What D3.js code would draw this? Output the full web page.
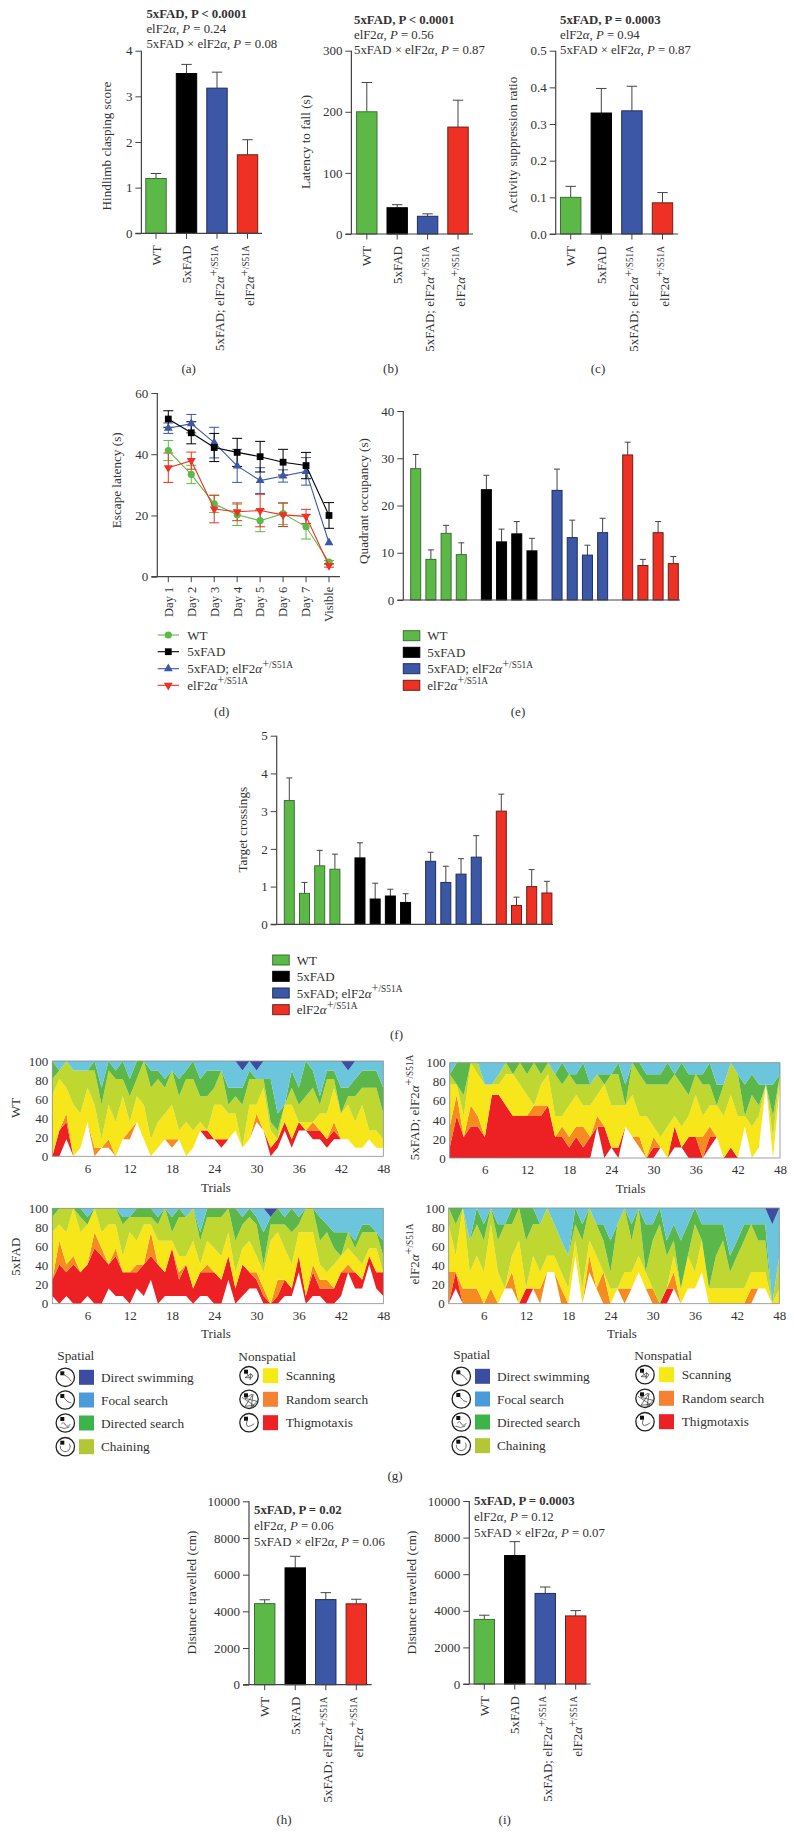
<!DOCTYPE html>
<html><head><meta charset="utf-8">
<script src="https://cdn.jsdelivr.net/npm/d3@7"></script>
<style>html,body{margin:0;padding:0;background:#fff}svg{display:block}text{fill:#333}</style>
</head><body><svg id="c" width="794" height="1833"></svg>
<script>
// ---------- data ----------
const genotypes=["WT","5xFAD","5xFAD; elF2*α*^+/S51A^","elF2*α*^+/S51A^"];
const aValues=[1.2,3.5,3.18,1.72], aUpper=[1.31,3.7,3.53,2.05];
const bValues=[200,43,29,175], bUpper=[248,48,33,219];
const cValues=[0.1,0.33,0.336,0.085], cUpper=[0.13,0.397,0.403,0.113];
const hValues=[4420,6370,4640,4410], hUpper=[4630,7000,5020,4660];
const iValues=[3530,7020,4950,3720], iUpper=[3760,7780,5300,4010];
const days=["Day 1","Day 2","Day 3","Day 4","Day 5","Day 6","Day 7","Visible"];
const dWT=[41.2,33.4,23.8,20.2,18.3,20.6,16.3,4.8], dWTErr=[3.3,3,2.8,3.5,3.6,3.6,4,0.5];
const dFAD=[51.5,47,42.2,40.6,39.2,37.4,36.3,20], dFADErr=[2.7,3.6,4.6,4.6,5,4.2,4.3,4.2];
const dDouble=[48.5,50,43.8,36.2,31.4,32.9,34.4,11.1], dDoubleErr=[1.7,3,5,5.4,4.2,2,4.5,0];
const dEIF=[35.6,37.9,22.1,21.2,21.6,20.2,19.7,3.6], dEIFErr=[4.8,2.8,4.5,2.9,5.3,3.8,2.3,0.5];
const eValues=[[27.8,8.6,14.1,9.6],[23.35,12.3,14,10.4],[23.2,13.2,9.5,14.25],[30.7,7.3,14.25,7.7]];
const eUpper=[[30.8,10.6,15.8,12.1],[26.4,15,16.6,13.05],[27.7,16.9,11.6,17.3],[33.4,8.6,16.6,9.2]];
const fValues=[[3.28,0.82,1.55,1.46],[1.76,0.67,0.75,0.58],[1.67,1.11,1.33,1.78],[3,0.5,1,0.83]];
const fUpper=[[3.88,1.11,1.96,1.86],[2.16,1.09,0.93,0.81],[1.91,1.54,1.74,2.35],[3.45,0.72,1.45,1.14]];
const aStats=["5xFAD, P < 0.0001","elF2*α*, *P* = 0.24","5xFAD × elF2*α*, *P* = 0.08"];
const bStats=["5xFAD, P < 0.0001","elF2*α*, *P* = 0.56","5xFAD × elF2*α*, *P* = 0.87"];
const cStats=["5xFAD, P = 0.0003","elF2*α*, *P* = 0.94","5xFAD × elF2*α*, *P* = 0.87"];
const hStats=["5xFAD, P = 0.02","elF2*α*, *P* = 0.06","5xFAD × elF2*α*, *P* = 0.06"];
const iStats=["5xFAD, P = 0.0003","elF2*α*, *P* = 0.12","5xFAD × elF2*α*, *P* = 0.07"];
const strategies=["Direct swimming","Focal search","Directed search","Chaining","Scanning","Random search","Thigmotaxis"];
const xTrials=[6,12,18,24,30,36,42,48], yPercent=[0,20,40,60,80,100];
// cumulative tops of each strategy band, trials 1..48
const wtBase=[0,0,18,0,9,36, 0,9,9,0,18,18, 36,18,0,9,18,9, 18,0,9,27,18,18, 9,18,27,9,18,36, 27,0,9,27,9,27, 27,18,18,9,18,18, 18,9,9,18,9,9];
const wtThig=[0,27,36,0,9,36, 0,9,9,0,18,18, 36,18,0,9,18,9, 18,0,9,27,27,18, 18,18,27,9,18,36, 27,9,18,36,18,36, 27,27,27,18,27,18, 18,9,9,18,9,9];
const wtRand=[0,27,45,0,9,36, 9,9,18,0,18,27, 36,18,0,9,18,18, 18,0,9,27,27,18, 18,18,27,9,18,45, 27,9,18,36,18,36, 27,36,27,18,36,18, 18,9,9,18,9,9];
const wtScan=[64,81,72,54,45,72, 54,18,54,36,63,36, 63,54,18,36,45,54, 27,36,27,36,27,54, 54,45,45,9,54,54, 72,27,18,54,54,36, 36,36,45,45,72,45, 54,36,54,27,27,18];
const wtChain=[81,90,100,90,90,90, 90,54,90,81,81,63, 81,100,72,81,72,90, 63,81,81,63,63,72, 90,54,63,54,81,81, 81,36,27,45,72,54, 63,72,54,81,81,45, 63,63,72,72,72,45];
const wtDirected=[100,90,100,90,90,90, 100,72,100,90,100,81, 100,100,90,90,81,90, 81,90,100,81,90,90, 90,72,72,72,90,81, 81,81,45,54,90,72, 100,90,63,90,90,72, 72,81,90,90,90,72];
const wtFocal=[100,100,100,100,100,100, 100,100,100,100,100,100, 100,100,100,100,100,100, 100,100,100,100,100,100, 100,100,100,90,100,90, 100,100,100,100,100,100, 100,100,100,100,100,100, 90,100,100,100,100,100];
const fadBase=[8,0,8,0,0,8, 0,0,16,8,8,0, 16,8,25,0,8,8, 8,8,0,8,8,0, 0,25,0,8,16,16, 0,0,0,8,8,33, 0,8,8,0,0,8, 33,16,16,41,16,8];
const fadThig=[25,41,33,41,33,41, 58,50,41,50,33,33, 33,41,50,41,33,58, 25,41,16,33,33,33, 25,50,16,41,33,25, 8,0,8,25,16,50, 8,33,16,16,16,33, 33,33,25,50,33,33];
const fadRand=[25,66,41,50,33,41, 75,58,41,58,33,33, 41,41,75,41,33,58, 33,41,16,33,41,33, 25,50,16,41,33,33, 16,0,25,25,16,50, 8,41,25,25,16,33, 41,33,25,50,33,33];
const fadScan=[75,83,75,100,75,83, 100,75,83,83,50,75, 66,83,83,66,66,66, 50,50,66,41,66,58, 50,75,33,58,66,50, 33,66,75,58,41,75, 75,75,41,33,41,50, 58,50,41,58,58,33];
const fadChain=[91,100,100,100,91,83, 100,100,100,100,83,91, 91,91,91,83,100,75, 91,91,100,66,91,91, 91,100,66,83,91,83, 41,83,83,83,75,83, 100,100,66,75,58,50, 75,58,75,75,75,50];
const fadDirected=[100,100,100,100,100,91, 100,100,100,100,91,91, 100,100,100,91,100,91, 100,91,100,75,100,100, 100,100,100,91,100,91, 75,91,100,91,100,91, 100,100,91,83,75,75, 75,66,83,83,75,66];
const fadFocal=[100,100,100,100,100,100, 100,100,100,100,100,100, 100,100,100,100,100,100, 100,100,100,100,100,100, 100,100,100,100,100,100, 100,91,100,100,100,100, 100,100,100,100,100,100, 100,100,100,100,100,100];
const dblBase=[0,0,0,0,0,0, 0,0,0,0,0,0, 0,0,0,0,0,0, 0,0,0,33,0,11, 0,33,22,11,0,0, 11,0,11,11,0,0, 0,11,22,0,0,0, 33,0,11,77,0,77];
const dblThig=[11,44,22,33,33,22, 66,66,55,44,44,44, 44,44,55,22,22,11, 22,11,22,33,33,11, 11,33,11,11,0,11, 11,0,33,11,22,22, 0,22,22,0,11,0, 33,0,11,77,0,77];
const dblRand=[33,66,22,55,44,22, 66,66,55,44,44,44, 55,55,55,22,33,22, 33,33,22,44,33,11, 11,33,22,22,0,22, 11,0,33,11,22,22, 22,33,22,0,11,0, 33,0,11,77,0,77];
const dblScan=[77,77,44,100,88,77, 77,77,88,88,77,66, 55,77,88,44,44,55, 66,55,55,66,77,55, 55,55,66,44,44,33, 22,33,44,33,44,66, 44,55,55,44,66,44, 44,33,44,77,22,88];
const dblChain=[88,77,66,100,100,77, 77,88,100,88,100,88, 100,88,100,88,77,88, 77,77,77,88,77,88, 88,55,100,88,77,77, 77,77,88,77,66,88, 77,77,55,77,100,88, 44,66,55,77,44,88];
const dblDirected=[88,100,100,100,100,77, 77,88,100,100,88,100, 100,100,100,88,100,88, 88,100,77,88,88,88, 100,77,100,100,88,88, 88,100,88,100,88,88, 88,100,77,77,100,88, 77,88,77,77,77,88];
const dblFocal=[100,100,100,100,100,100, 100,100,100,100,100,100, 100,100,100,100,100,100, 100,100,100,100,100,100, 100,100,100,100,100,100, 100,100,100,100,100,100, 100,100,100,100,100,100, 100,100,100,100,100,100];
const eifBase=[0,16,0,0,0,0, 0,0,16,16,0,0, 16,0,33,33,0,0, 50,0,33,16,0,0, 16,0,16,33,16,0, 0,0,16,0,16,16, 33,0,0,0,0,0, 0,0,16,16,0,0];
const eifThig=[0,33,0,0,0,0, 0,0,16,16,0,16, 16,0,33,33,0,0, 50,0,33,16,0,0, 16,0,16,33,16,0, 0,16,16,0,16,16, 33,0,0,0,0,0, 0,0,16,16,0,0];
const eifRand=[33,33,16,16,16,0, 16,0,16,33,0,16, 16,16,33,33,16,0, 50,0,50,16,33,0, 16,16,16,33,16,16, 0,16,33,0,16,16, 33,0,0,0,0,0, 0,16,16,16,0,0];
const eifScan=[83,50,100,33,50,33, 83,33,16,50,66,16, 50,33,50,50,33,16, 66,16,66,50,33,16, 16,33,33,50,33,16, 0,16,50,16,50,33, 66,16,16,16,16,16, 16,33,33,33,0,16];
const eifChain=[100,83,100,66,83,66, 100,66,83,83,100,66, 83,83,100,83,66,50, 83,66,100,83,66,33, 83,100,66,100,33,66, 83,50,66,16,50,83, 66,16,50,66,33,50, 66,83,66,66,0,50];
const eifDirected=[100,100,100,66,100,83, 100,83,83,100,100,100, 100,83,100,83,66,50, 100,83,100,83,83,66, 83,100,83,100,83,83, 100,66,83,66,83,100, 83,83,83,83,50,66, 83,83,83,83,0,50];
const eifFocal=[100,100,100,100,100,100, 100,100,100,100,100,100, 100,100,100,100,100,100, 100,100,100,100,100,100, 100,100,100,100,100,100, 100,100,100,100,100,100, 100,100,100,100,100,100, 100,100,100,100,83,100];

// ---------- styles ----------
const serif='"Liberation Serif","Tinos","Times New Roman"';
const fills=["#5db947","#000","#3b57a5","#ee3124"];
const strokes=["#3d6f33","#000","#1f2e5a","#6a2018"];
const axisCol="#444";
const bandFill=["#ed2124","#f68b1f","#f7e61a","#bfd731","#5cb74a","#6bc5dc","#3c4ea0"];
const keyFill=["#3a4da0","#4a9bd7","#3cb44a","#b2c636","#f5ea14","#f58233","#ed2024"];
const svg=d3.select("#c");

function rich(t,str,baseSize){
  const parts=str.split(/(\*[^*]+\*|\^[^^]+\^)/).filter(s=>s!=="");
  parts.forEach(p=>{
    if(p[0]==="*"){t.append("tspan").attr("font-style","italic").text(p.slice(1,-1));}
    else if(p[0]==="^"){
      const v=p.slice(1,-1);
      t.append("tspan").attr("dy",-baseSize*0.42).style("font-size",baseSize*0.95+"px").text(v[0]);
      t.append("tspan").style("font-size",baseSize*0.72+"px").text(v.slice(1));
    }
    else t.append("tspan").text(p);
  });
  return t;
}
function txt(x,y,s,o={}){
  const size=o.size||13;
  const t=svg.append("text").attr("x",x).attr("y",y).attr("dy","0.35em")
    .attr("text-anchor",o.anchor||"start").style("font-size",size+"px");
  if(o.rotate)t.attr("transform",`rotate(-90 ${x} ${y})`);
  if(o.bold)t.style("font-weight","bold");
  rich(t,s,size);
  return t;
}
function axes(g,y,ticks,fmt,x0,x1,tickLen){
  const a=d3.axisLeft(y).tickValues(ticks).tickSize(tickLen).tickPadding(3).tickFormat(fmt);
  const ag=g.append("g").attr("transform",`translate(${x0},0)`).call(a);
  ag.selectAll("path").attr("d",`M0,${y.range()[1]}V${y.range()[0]}`).attr("stroke",axisCol).attr("stroke-width",1.2);
  ag.selectAll("line").attr("stroke",axisCol).attr("stroke-width",1);
  ag.selectAll("text").style("font-size","13px").attr("fill","#333");
  g.append("line").attr("x1",x0-tickLen).attr("x2",x1).attr("y1",y(0)).attr("y2",y(0)).attr("stroke",axisCol).attr("stroke-width",1.2);
}
function errorBar(g,x,y0,y1,capW,col){
  g.append("line").attr("x1",x).attr("x2",x).attr("y1",y0).attr("y2",y1).attr("stroke",col).attr("stroke-width",1);
  g.append("line").attr("x1",x-capW).attr("x2",x+capW).attr("y1",y1).attr("y2",y1).attr("stroke",col).attr("stroke-width",1);
}
function barPanel(c){
  const g=svg.append("g");
  const y=d3.scaleLinear().domain([0,c.max]).range([c.y0,c.yTop]);
  const x=d3.scalePoint().domain(d3.range(c.values.length)).range([c.x1st,c.xLast]);
  c.values.forEach((v,i)=>errorBar(g,x(i),y(v),y(c.upper[i]),5.2,"#444"));
  g.selectAll(".b").data(c.values).join("rect").attr("x",(d,i)=>x(i)-10.2).attr("width",20.4)
    .attr("y",d=>y(d)).attr("height",d=>y(0)-y(d)).attr("fill",(d,i)=>fills[i]).attr("stroke",(d,i)=>strokes[i]).attr("stroke-width",1);
  axes(g,y,c.ticks,c.fmt,c.xAxis,c.xEnd,6);
  c.values.forEach((v,i)=>{
    g.append("line").attr("x1",x(i)).attr("x2",x(i)).attr("y1",y(0)).attr("y2",y(0)+5.5).attr("stroke",axisCol);
    const off=i>=2?2:0;
    txt(x(i)+off,y(0)+12,genotypes[i],{anchor:"end",rotate:true});
  });
  txt(c.labX,c.labY,c.label,{anchor:"middle",rotate:true,size:13.2});
  c.stats.forEach((s,i)=>txt(c.sx,c.sy+i*c.sd,s,{bold:i===0,size:12.8}));
  txt(c.capX,c.capY,c.cap,{anchor:"middle"});
}
const fmtInt=d3.format("d"), fmt1=d3.format(".1f");
barPanel({values:aValues,upper:aUpper,max:4,y0:233.3,yTop:50.7,x1st:156,xLast:247.5,xAxis:141.4,xEnd:262,ticks:[0,1,2,3,4],fmt:fmtInt,label:"Hindlimb clasping score",labX:106.8,labY:146,stats:aStats,sx:146.4,sy:13.3,sd:15.2,cap:"(a)",capX:188.6,capY:368.3});
barPanel({values:bValues,upper:bUpper,max:300,y0:234,yTop:50.7,x1st:366.8,xLast:458,xAxis:351.4,xEnd:473,ticks:[0,100,200,300],fmt:fmtInt,label:"Latency to fall (s)",labX:305.7,labY:142,stats:bStats,sx:354,sy:20,sd:14.6,cap:"(b)",capX:390.7,capY:368.3});
barPanel({values:cValues,upper:cUpper,max:0.5,y0:234,yTop:50.7,x1st:570.7,xLast:662.5,xAxis:555.7,xEnd:678,ticks:[0,0.1,0.2,0.3,0.4,0.5],fmt:fmt1,label:"Activity suppression ratio",labX:512,labY:144.8,stats:cStats,sx:560,sy:20,sd:14.6,cap:"(c)",capX:598,capY:368.3});
barPanel({values:hValues,upper:hUpper,max:10000,y0:1684.7,yTop:1501.3,x1st:264.7,xLast:356.3,xAxis:249,xEnd:371.7,ticks:[0,2000,4000,6000,8000,10000],fmt:fmtInt,label:"Distance travelled (cm)",labX:191.7,labY:1592.5,stats:hStats,sx:254,sy:1510,sd:15.7,cap:"(h)",capX:284,capY:1819});
barPanel({values:iValues,upper:iUpper,max:10000,y0:1684,yTop:1501,x1st:484.3,xLast:575.7,xAxis:469.3,xEnd:590.7,ticks:[0,2000,4000,6000,8000,10000],fmt:fmtInt,label:"Distance travelled (cm)",labX:411.3,labY:1592.5,stats:iStats,sx:474,sy:1500.7,sd:16,cap:"(i)",capX:504.7,capY:1819});

// ---------- (d) line chart ----------
(function(){
  const g=svg.append("g");
  const y=d3.scaleLinear().domain([0,60]).range([576.7,393]);
  const x=d3.scalePoint().domain(days).range([168.3,329]);
  const series=[{v:dWT,e:dWTErr,sym:d3.symbolCircle,s:40,i:0},{v:dEIF,e:dEIFErr,sym:d3.symbolTriangle,s:34,i:3,flip:true},{v:dDouble,e:dDoubleErr,sym:d3.symbolTriangle,s:34,i:2},{v:dFAD,e:dFADErr,sym:d3.symbolSquare,s:46,i:1}];
  const line=d3.line().x((d,i)=>x(days[i])).y(d=>y(d));
  series.forEach(s=>{
    s.v.forEach((v,i)=>{
      const cx=x(days[i]);
      if(s.e[i]>0){errorBar(g,cx,y(v),y(v+s.e[i]),5,fills[s.i]);errorBar(g,cx,y(v),y(v-s.e[i]),5,fills[s.i]);}
    });
  });
  series.forEach(s=>{
    g.append("path").attr("d",line(s.v)).attr("fill","none").attr("stroke",fills[s.i]).attr("stroke-width",1.1);
    s.v.forEach((v,i)=>g.append("path").attr("d",d3.symbol().type(s.sym).size(s.s)()).attr("fill",fills[s.i])
      .attr("transform",`translate(${x(days[i])},${y(v)})${s.flip?" rotate(180)":""}`));
  });
  axes(g,y,[0,20,40,60],fmtInt,157.3,340,6);
  days.forEach(d=>{
    g.append("line").attr("x1",x(d)).attr("x2",x(d)).attr("y1",y(0)).attr("y2",y(0)+5.5).attr("stroke",axisCol);
    txt(x(d),y(0)+10,d,{anchor:"end",rotate:true,size:12.5});
  });
  txt(116,480.3,"Escape latency (s)",{anchor:"middle",rotate:true,size:13.2});
  const legY=[635,651.7,668.7,685.3], order=[0,3,2,1];
  [0,1,2,3].forEach(i=>{
    const s=series[order[i]];
    g.append("line").attr("x1",157.7).attr("x2",179).attr("y1",legY[i]).attr("y2",legY[i]).attr("stroke",fills[i]).attr("stroke-width",1.1);
    g.append("path").attr("d",d3.symbol().type(s.sym).size(s.s)()).attr("fill",fills[i]).attr("transform",`translate(168.3,${legY[i]})${s.flip?" rotate(180)":""}`);
    txt(187.3,legY[i],genotypes[i],{size:13});
  });
  txt(221.7,711,"(d)",{anchor:"middle"});
})();

// ---------- (e) (f) grouped bars ----------
function groupPanel(c){
  const g=svg.append("g");
  const y=d3.scaleLinear().domain([0,c.max]).range([c.y0,c.yTop]);
  const outer=d3.scalePoint().domain([0,1,2,3]).range([c.x1st,c.x4th]);
  const inner=d3.scaleLinear().domain([0,3]).range([0,c.inner]);
  c.values.forEach((grp,k)=>grp.forEach((v,j)=>{
    const cx=outer(k)+inner(j);
    errorBar(g,cx,y(v),y(c.upper[k][j]),3,"#444");
    g.append("rect").attr("x",cx-5).attr("width",10).attr("y",y(v)).attr("height",y(0)-y(v)).attr("fill",fills[k]).attr("stroke",strokes[k]).attr("stroke-width",1);
  }));
  axes(g,y,c.ticks,fmtInt,c.xAxis,c.xEnd,6);
  txt(c.labX,c.labY,c.label,{anchor:"middle",rotate:true,size:13.2});
  genotypes.forEach((n,i)=>{
    g.append("rect").attr("x",c.keyX).attr("y",c.keyY[i]-5).attr("width",16.5).attr("height",10).attr("fill",fills[i]).attr("stroke",strokes[i]);
    txt(c.keyX+24,c.keyY[i],n,{size:13});
  });
  txt(c.capX,c.capY,c.cap,{anchor:"middle"});
}
groupPanel({values:eValues,upper:eUpper,max:40,y0:600,yTop:411,x1st:415.7,x4th:627.7,inner:45.6,xAxis:403.3,xEnd:680,ticks:[0,10,20,30,40],label:"Quadrant occupancy (s)",labX:363,labY:501,keyX:403.3,keyY:[635.7,652.3,668.7,685.3],cap:"(e)",capX:518,capY:711.7});
groupPanel({values:fValues,upper:fUpper,max:5,y0:924.3,yTop:735.7,x1st:289.3,x4th:501.3,inner:45.6,xAxis:276.7,xEnd:553,ticks:[0,1,2,3,4,5],label:"Target crossings",labX:242.7,labY:829.7,keyX:272.7,keyY:[960,976.3,993,1009.7],cap:"(f)",capX:396.5,capY:1034});

// ---------- (g) stacked strategy areas ----------
function areaPanel(c){
  const g=svg.append("g");
  const x=d3.scaleLinear().domain([1,48]).range([c.x0,c.x1]);
  const y=d3.scaleLinear().domain([0,100]).range([c.y0,c.y1]);
  const tops=[...c.tops,c.tops[0].map(()=>100)];
  const clean=[];
  tops.forEach((t,k)=>clean.push(t.map((v,i)=>k?Math.max(v,clean[k-1][i]):v)));
  for(let k=0;k<clean.length-1;k++){
    const area=d3.area().x((d,i)=>x(i+1)).y0((d,i)=>y(clean[k][i])).y1((d,i)=>y(clean[k+1][i]));
    g.append("path").attr("d",area(clean[k])).attr("fill",bandFill[k]);
  }
  g.append("rect").attr("x",c.x0).attr("y",c.y1).attr("width",c.x1-c.x0).attr("height",c.y0-c.y1).attr("fill","none").attr("stroke","#8a8a8a").attr("stroke-width",0.8);
  const ax=d3.axisBottom(x).tickValues(xTrials).tickSize(0).tickPadding(7).tickFormat(fmtInt);
  const ag=g.append("g").attr("transform",`translate(0,${c.y0})`).call(ax);
  ag.select("path").remove();
  ag.selectAll("text").style("font-size","13px").attr("fill","#333");
  const ay=d3.axisLeft(y).tickValues(yPercent).tickSize(0).tickPadding(4).tickFormat(fmtInt);
  const ayg=g.append("g").attr("transform",`translate(${c.x0},0)`).call(ay);
  ayg.select("path").remove();
  ayg.selectAll("text").style("font-size","13px").attr("fill","#333");
  txt(c.trialX,c.trialY,"Trials",{anchor:"middle",size:13});
  txt(c.labX,c.labY,c.label,{anchor:"middle",rotate:true,size:13});
}
areaPanel({x0:52.3,x1:383.3,y0:1156.3,y1:1061,tops:[wtBase,wtThig,wtRand,wtScan,wtChain,wtDirected,wtFocal],label:"WT",labX:15,labY:1108,trialX:216,trialY:1187.7});
areaPanel({x0:52.3,x1:383.3,y0:1303.7,y1:1208.3,tops:[fadBase,fadThig,fadRand,fadScan,fadChain,fadDirected,fadFocal],label:"5xFAD",labX:15,labY:1256.7,trialX:216,trialY:1333});
areaPanel({x0:449.7,x1:780,y0:1158,y1:1062.7,tops:[dblBase,dblThig,dblRand,dblScan,dblChain,dblDirected,dblFocal],label:"5xFAD; elF2*α*^+/S51A^",labX:414,labY:1107.5,trialX:630.7,trialY:1188});
areaPanel({x0:448.7,x1:779.3,y0:1303.7,y1:1208,tops:[eifBase,eifThig,eifRand,eifScan,eifChain,eifDirected,eifFocal],label:"elF2*α*^+/S51A^",labX:414,labY:1254,trialX:622,trialY:1333});

function strategyKey(dx,dy){
  const g=svg.append("g").attr("transform",`translate(${dx},${dy})`);
  const draw=(cx,cy,sq,tx,kind)=>{
    g.append("circle").attr("cx",cx).attr("cy",cy).attr("r",9.2).attr("fill","#fff").attr("stroke","#222").attr("stroke-width",1.3);
    g.append("rect").attr("x",cx-5).attr("y",cy-6).attr("width",4).attr("height",4).attr("fill","#111");
    const paths=["M-2,-3 Q3,-1 6,4","M-2,-3 Q2,3 6,3","M-4,1 q3,-3 4,1 q3,3 5,-1 M-6,4 q5,3 10,0","M-5,-1 a5,5 0 1 0 9,-2","M-4,-4 l5,6 l-5,0 l6,-4 l-1,6 l3,-4 l-3,-2","M-7,-2 l12,8 l-9,1 l8,-12 l-2,14 l6,-7 l-12,-3 l7,-4","M-2,-2 q-2,8 4,5 q4,-2 3,-2"];
    g.append("path").attr("transform",`translate(${cx},${cy})`).attr("d",paths[kind]).attr("fill","none").attr("stroke","#333").attr("stroke-width",0.7);
    g.append("rect").attr("x",sq).attr("y",cy-7.5).attr("width",15).attr("height",15).attr("fill",keyFill[kind]);
    g.append("text").attr("x",tx).attr("y",cy).attr("dy","0.35em").text(strategies[kind]).style("font-size","13.3px");
  };
  [1377.3,1400,1423,1446.7].forEach((y,i)=>draw(65.3,y,79,101,i));
  [1375.7,1399.3,1422.7].forEach((y,i)=>draw(249,y,263,285.7,i+4));
  g.append("text").attr("x",57.3).attr("y",1355).attr("dy","0.35em").text("Spatial").style("font-size","13.3px");
  g.append("text").attr("x",238.3).attr("y",1356.7).attr("dy","0.35em").text("Nonspatial").style("font-size","13.3px");
}
strategyKey(0,0); strategyKey(396,-1);
txt(395,1475,"(g)",{anchor:"middle"});
svg.selectAll("text").style("font-family",serif);
</script></body></html>
